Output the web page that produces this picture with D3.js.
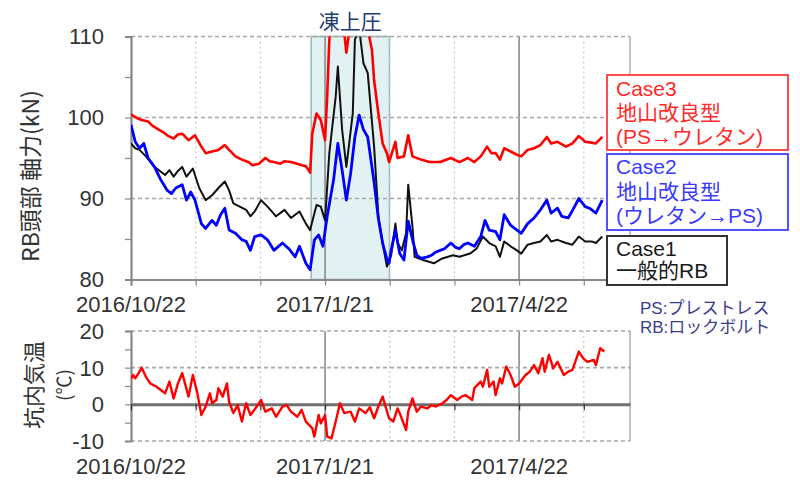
<!DOCTYPE html>
<html><head><meta charset="utf-8">
<script src="https://cdn.jsdelivr.net/npm/d3@7/dist/d3.min.js"></script>
<style>body{margin:0;background:#fff}svg{display:block}</style>
</head><body>
<svg id="c" width="800" height="484"></svg>
<script>
// ---------- data ----------
const startDate = [2016, 9, 22];         // 2016/10/22 (UTC, month 0-based)
const axisEndDay = 234;                   // axis end, days after start
const majorTickDays = [0, 91, 182];
const xTickLabels = ["2016/10/22", "2017/1/21", "2017/4/22"];
const minorStepDays = 91 / 3;
const frostPeriodDays = [84.5, 121.2];
const frostLabel = "凍上圧";

const yTopTicks = [80, 90, 100, 110];
const yBotTicks = [-10, 0, 10, 20];

// Case3 地山改良型 (PS→ウレタン) — red
const case3Days = [0,3,5,8,10,13,15,17,20,22,24,27,30,33,35,38,41,44,46,49,52,55,57,60,63,65,67,70,72,75,78,80,82,84,85,87,89,91,92,93,95,97,99,101,103,105,107,110,111,113,114,116,118,120,121,124,125,128,130,132,136,140,145,150,154,158,161,164,167,169,171,173,175,178,181,183,186,189,192,195,197,200,204,207,210,213,216,218,221];
const case3Vals = [100.4,99.9,99.7,99.5,99.0,98.5,98.2,97.8,97.4,97.9,98.0,97.2,97.8,96.4,95.6,95.8,96.0,96.6,96.0,95.2,94.8,94.5,94.1,94.3,95.0,94.6,94.5,94.3,94.6,94.5,94.3,94.1,94.0,93.2,98.0,100.5,99.7,97.2,102.6,109.6,114,116,113,108,112,117,118,115,111,108.3,104.6,100.5,96.8,95.6,94.5,97.0,95.0,95.2,97.8,95.2,94.8,94.5,94.5,95.0,94.5,95.0,94.5,95.2,96.4,95.6,95.6,94.8,96.2,95.8,95.4,95.2,96.0,96.2,96.6,97.6,96.8,97.0,96.4,96.8,97.7,97.0,96.9,96.8,97.6];

// Case2 地山改良型 (ウレタン→PS) — blue
const case2Days = [0,2,4,6,8,11,14,17,19,21,24,26,28,30,33,35,38,40,42,44,46,49,52,54,56,58,61,64,67,71,74,77,79,82,84,86,88,90,92,95,97,99,101,103,105,107,109,111,114,116,118,120,121,122,124,126,128,130,132,134,136,139,141,143,145,147,150,152,154,156,158,161,164,166,168,171,173,175,178,181,183,186,189,192,195,197,200,202,205,207,210,213,215,218,221];
const case2Vals = [99.1,97.0,96.2,96.8,95.0,93.9,92.3,91.0,90.6,91.3,91.7,89.8,90.8,89.8,86.9,86.3,87.3,86.7,88.0,88.8,86.1,85.7,84.9,84.7,83.6,85.3,85.5,84.9,83.6,84.5,83.8,82.8,84.1,82.0,81.2,84.9,85.5,84.1,87.8,92.3,96.8,93.5,89.8,93.1,97.6,100.3,98.5,97.6,92.0,87.5,84.5,82.5,82.0,83.6,86.1,83.2,82.4,87.2,84.9,83.0,82.6,82.8,83.0,83.4,83.6,83.8,84.5,84.0,83.8,84.3,84.5,84.1,85.3,87.3,86.1,85.9,84.9,88.0,86.7,86.1,85.7,86.9,87.6,88.6,89.8,88.2,88.8,87.8,87.6,88.5,90.0,89.0,88.8,88.2,89.8];

// Case1 一般的RB — black
const case1Days = [0,2,4,7,11,14,16,18,20,22,24,26,29,32,35,38,41,44,46,48,51,54,56,58,61,64,66,68,72,75,77,79,82,84,87,89,91,93,96,97,99,101,104,105,107,109,111,114,116,118,120,122,124,125,127,129,130,132,133,137,142,146,151,154,159,162,165,168,171,173,175,178,181,183,186,189,192,195,197,200,204,207,210,213,216,218,221];
const case1Vals = [96.8,96.2,96.0,95.2,93.9,93.3,92.9,93.5,92.7,93.4,93.9,92.7,93.7,91.3,89.8,90.4,91.3,92.1,91.0,89.4,89.0,88.6,87.8,88.4,89.8,89.0,88.4,87.8,88.6,87.6,88.0,88.4,86.9,86.1,89.2,89.0,87.3,95.6,102.6,106.3,98.5,93.9,100.5,109.6,111,106.7,105.5,96.4,87.8,84.5,81.6,83.0,86.9,84.5,83.6,85.7,91.7,86.5,82.8,82.4,82.0,82.6,83.0,82.8,83.2,83.8,85.3,84.5,84.1,82.8,84.7,84.1,83.6,83.2,84.3,84.5,84.7,85.5,84.7,84.9,84.5,84.3,85.3,84.7,84.7,84.5,85.3];

// 坑内気温 (℃)
const tempDays = [0,1,2,4,5,7,9,12,14,16,18,20,22,24,27,29,31,33,35,37,38,40,41,43,45,46,48,50,52,54,56,59,61,63,66,68,71,73,75,78,80,82,85,86,88,89,91,92,94,96,98,100,103,105,107,110,112,114,116,118,121,123,125,126,129,130,132,134,136,139,141,143,146,148,150,153,155,157,160,161,164,165,167,168,170,171,173,174,176,178,180,182,185,187,189,191,193,194,196,198,200,203,205,207,210,212,214,217,218,220,222];
const tempVals = [7.0,8.0,7.1,8.9,10.0,7.5,5.7,4.8,3.9,3.0,6.2,1.6,5.7,8.5,2.1,8.0,3.4,-2.9,-0.6,3.0,0.3,1.2,4.4,2.1,5.7,0.7,-2.4,-0.2,-4.7,0.3,-2.9,-0.6,1.2,-2.0,-1.1,-3.4,-0.6,-0.2,-2.0,-3.4,-1.5,-4.7,-6.5,-8.8,-2.9,-5.2,-2.9,-8.8,-9.3,-4.7,0.3,-2.4,-2.0,-4.7,-1.1,-2.4,-0.8,-3.8,-0.6,2.1,-3.8,-4.7,-1.1,-2.4,-7.0,-2.0,1.6,-2.0,-0.6,-1.1,-0.2,-0.6,0.3,1.2,2.5,1.2,2.1,2.5,1.2,4.4,6.2,4.8,9.4,4.8,6.2,2.5,7.1,5.7,10.3,8.0,4.8,5.7,8.0,8.9,10.7,8.5,12.6,8.9,13.5,9.8,11.6,8.0,8.9,9.4,14.4,12.6,11.6,12.1,10.7,15.3,14.4];

const legendItems = [
  {lines: ["Case3", "地山改良型", "(PS→ウレタン)"], color: "#ff2a2a", border: "#ff4d4d"},
  {lines: ["Case2", "地山改良型", "(ウレタン→PS)"], color: "#3a3aff", border: "#5050ff"},
  {lines: ["Case1", "一般的RB"], color: "#1a1a1a", border: "#333"}
];
const notes = ["PS:プレストレス", "RB:ロックボルト"];

// ---------- drawing ----------
const svg = d3.select("#c");
const t0 = Date.UTC(startDate[0], startDate[1], startDate[2]);
const DAY = 864e5;
const toDate = d => new Date(t0 + d * DAY);
const FONT = "'Liberation Sans', Arial, 'Noto Sans CJK JP', sans-serif";
const CJK = "'Noto Sans CJK JP', 'Liberation Sans', sans-serif";

const x = d3.scaleUtc().domain([toDate(0), toDate(axisEndDay)]).range([131, 630]);
const yTop = d3.scaleLinear().domain([80, 110]).range([279.5, 36.5]);
const yBot = d3.scaleLinear().domain([-10, 20]).range([441, 331]);

const minorDates = d3.range(0, axisEndDay, minorStepDays).map(toDate);
const majorDates = majorTickDays.map(toDate);
const isMajor = dt => majorTickDays.some(m => Math.abs(toDate(m) - dt) < DAY / 2);

function panel(y, yMin, yMax, gridVals) {
  const g = svg.append("g");
  const [x0, x1] = x.range();
  const yt = y(yMax), yb = y(yMin);
  minorDates.forEach(dt => {
    if (+dt === +toDate(0)) return;
    const major = isMajor(dt);
    g.append("line").attr("x1", x(dt)).attr("x2", x(dt)).attr("y1", yt).attr("y2", yb)
      .attr("stroke", major ? "#8c8c8c" : "#c8c8c8")
      .attr("stroke-width", major ? 1.6 : 1.2)
      .attr("stroke-dasharray", major ? null : "2,3");
  });
  gridVals.forEach(v => {
    g.append("line").attr("x1", x0).attr("x2", x1).attr("y1", y(v)).attr("y2", y(v))
      .attr("stroke", "#a8a8a8").attr("stroke-width", 1.6).attr("stroke-dasharray", "4,3");
  });
  g.append("line").attr("x1", x1).attr("x2", x1).attr("y1", yt).attr("y2", yb)
    .attr("stroke", "#999").attr("stroke-width", 1.2);
  return g;
}

// ---- frost shading (top) ----
svg.append("rect")
  .attr("x", x(toDate(frostPeriodDays[0]))).attr("y", yTop(110))
  .attr("width", x(toDate(frostPeriodDays[1])) - x(toDate(frostPeriodDays[0])))
  .attr("height", yTop(80) - yTop(110))
  .attr("fill", "#e2f1f1").attr("stroke", "#9cb5b5").attr("stroke-width", 1.5);

panel(yTop, 80, 110, [90, 100, 110]);
const yAxisTop = d3.axisLeft(yTop).tickValues(d3.range(80, 111, 5)).tickSize(6).tickFormat("");
svg.append("g").attr("transform", "translate(131,0)").call(yAxisTop)
  .call(g => g.select(".domain").attr("stroke", "#888").attr("stroke-width", 2.2))
  .call(g => g.selectAll(".tick line").attr("stroke", "#888").attr("stroke-width", 1.2));
const xAxisTop = d3.axisBottom(x).tickValues(minorDates).tickSize(6).tickFormat("");
svg.append("g").attr("transform", `translate(0,${yTop(80)})`).call(xAxisTop)
  .call(g => g.select(".domain").attr("stroke", "#888").attr("stroke-width", 2.2))
  .call(g => g.selectAll(".tick line").attr("stroke", "#888").attr("stroke-width", 1.2));

yTopTicks.forEach(v => svg.append("text").attr("x", 104).attr("y", yTop(v)).attr("dy", "0.36em")
  .attr("text-anchor", "end").attr("font-family", FONT).attr("font-size", 22).attr("fill", "#333").text(v));
majorDates.forEach((dt, i) => svg.append("text").attr("x", x(dt)).attr("y", 312)
  .attr("text-anchor", "middle").attr("font-family", FONT).attr("font-size", 22).attr("fill", "#333").text(xTickLabels[i]));

svg.append("clipPath").attr("id", "clipTop").append("rect")
  .attr("x", 131).attr("y", yTop(110)).attr("width", 499).attr("height", yTop(80) - yTop(110));
svg.append("clipPath").attr("id", "clipBot").append("rect")
  .attr("x", 131).attr("y", yBot(20)).attr("width", 499).attr("height", yBot(-10) - yBot(20));

function drawSeries(days, vals, y, color, width, clip) {
  const data = days.map((d, i) => ({d: toDate(d), v: vals[i]}));
  svg.append("path").datum(data)
    .attr("clip-path", `url(#${clip})`)
    .attr("fill", "none").attr("stroke", color).attr("stroke-width", width)
    .attr("stroke-linejoin", "round")
    .attr("d", d3.line().x(p => x(p.d)).y(p => y(p.v)));
}
drawSeries(case1Days, case1Vals, yTop, "#111", 2, "clipTop");
drawSeries(case2Days, case2Vals, yTop, "#0000ff", 2.8, "clipTop");
drawSeries(case3Days, case3Vals, yTop, "#ff0000", 2.6, "clipTop");

svg.append("text").attr("x", x(toDate((frostPeriodDays[0] + frostPeriodDays[1]) / 2)))
  .attr("y", 29).attr("text-anchor", "middle").attr("font-family", CJK).attr("font-size", 21)
  .attr("fill", "#1f3b73").text(frostLabel);

// ---- bottom panel ----
panel(yBot, -10, 20, [10, 20, -10]);
const yAxisBot = d3.axisLeft(yBot).tickValues(d3.range(-10, 21, 5)).tickSize(6).tickFormat("");
svg.append("g").attr("transform", "translate(131,0)").call(yAxisBot)
  .call(g => g.select(".domain").attr("stroke", "#888").attr("stroke-width", 2.2))
  .call(g => g.selectAll(".tick line").attr("stroke", "#888").attr("stroke-width", 1.2));
const xAxisBot = d3.axisBottom(x).tickValues(minorDates).tickSize(6).tickSizeOuter(0).tickFormat("");
svg.append("g").attr("transform", `translate(0,${yBot(0)})`).call(xAxisBot)
  .call(g => g.select(".domain").attr("stroke", "#707070").attr("stroke-width", 3))
  .call(g => g.selectAll(".tick line").attr("stroke", "#333").attr("stroke-width", 1.2));

yBotTicks.forEach(v => svg.append("text").attr("x", 104).attr("y", yBot(v)).attr("dy", "0.36em")
  .attr("text-anchor", "end").attr("font-family", FONT).attr("font-size", 22).attr("fill", "#333").text(v));
majorDates.forEach((dt, i) => svg.append("text").attr("x", x(dt)).attr("y", 474)
  .attr("text-anchor", "middle").attr("font-family", FONT).attr("font-size", 22).attr("fill", "#333").text(xTickLabels[i]));

drawSeries(tempDays, tempVals, yBot, "#ff0000", 2.4, "clipBot");

// axis titles
svg.append("text").attr("transform", "translate(39,176) rotate(-90)").attr("text-anchor", "middle")
  .attr("font-family", CJK).attr("font-size", 23).attr("fill", "#333").text("RB頭部 軸力(kN)");
svg.append("text").attr("transform", "translate(42,385) rotate(-90)").attr("text-anchor", "middle")
  .attr("font-family", CJK).attr("font-size", 22).attr("fill", "#333").text("坑内気温");
svg.append("text").attr("transform", "translate(71,385) rotate(-90)").attr("text-anchor", "middle")
  .attr("font-family", CJK).attr("font-size", 19).attr("fill", "#333").text("(℃)");

// ---- legend boxes ----
const boxes = [
  {x: 607, y: 75, w: 181, h: 75, cy: [88, 112.5, 136]},
  {x: 607, y: 154, w: 181, h: 76, cy: [166.5, 191.7, 215]},
  {x: 607, y: 236, w: 120, h: 49, cy: [248.3, 270]}
];
legendItems.forEach((it, i) => {
  const b = boxes[i];
  svg.append("rect").attr("x", b.x).attr("y", b.y).attr("width", b.w).attr("height", b.h)
    .attr("fill", "#fff").attr("stroke", it.border).attr("stroke-width", 2);
  it.lines.forEach((ln, j) => svg.append("text").attr("x", b.x + 9).attr("y", b.cy[j]).attr("dy", "0.36em")
    .attr("font-family", FONT).attr("font-size", 21).attr("fill", it.color).text(ln));
});
notes.forEach((t, i) => svg.append("text").attr("x", 640).attr("y", 308 + i * 19).attr("dy", "0.36em")
  .attr("font-family", FONT).attr("font-size", 17).attr("fill", "#3c3c8c").text(t));
</script>
</body></html>
